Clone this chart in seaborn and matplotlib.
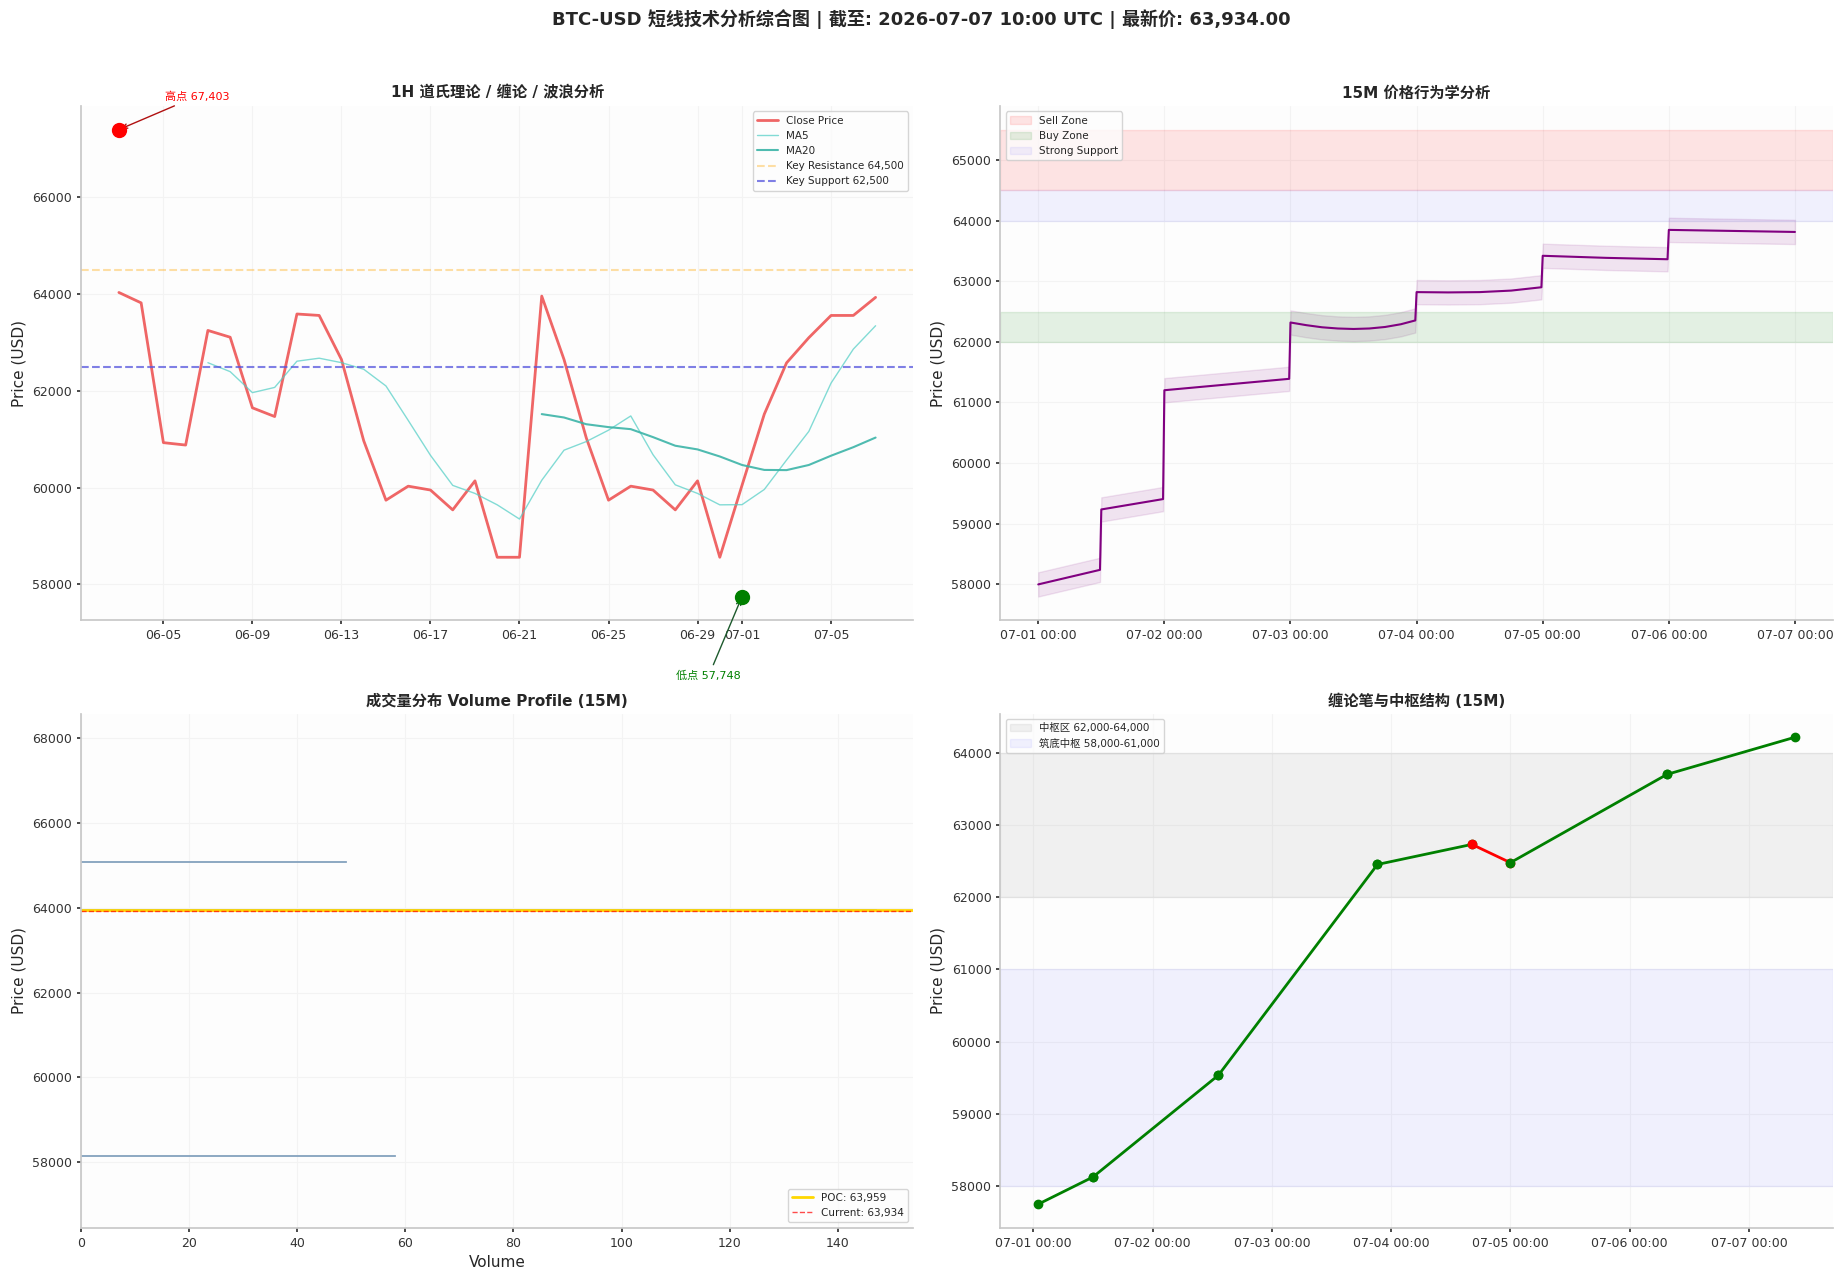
import pandas as pd
import matplotlib
matplotlib.use('Agg')
import matplotlib.pyplot as plt
import matplotlib.dates as mdates
import seaborn as sns
import numpy as np

# ---- 1H 日线收盘 (06-03 .. 07-07) ----
dates_1h = pd.date_range('2026-06-03', '2026-07-07', freq='D')
close_1h = [64035, 63820, 60930, 60880, 63250, 63110, 61650, 61470, 63590, 63560,
            62650, 60970, 59740, 60030, 59950, 59540, 60140, 58560, 58560, 63960,
            62650, 61030, 59740, 60030, 59950, 59540, 60140, 58560, 60050, 61520,
            62580, 63100, 63560, 63560, 63934]
# MA5 从 06-07 开始, MA20 从 06-22 开始
ma5 = [62583, 62398, 61964, 62072, 62614, 62676, 62584, 62448, 62102, 61390,
       60668, 60046, 59880, 59644, 59350, 60152, 60774, 60952, 61188, 61482,
       60680, 60058, 59880, 59644, 59648, 59962, 60570, 61162, 62162, 62864, 63347]
ma20 = [61520, 61450, 61311, 61251, 61209, 61044, 60866, 60790, 60644, 60468,
        60366, 60362, 60468, 60660, 60836, 61035]
high_date, high_price = pd.Timestamp('2026-06-03'), 67403
low_date, low_price = pd.Timestamp('2026-07-01'), 57748
resistance, support = 64500, 62500

# ---- 15M 价格 (小时偏移, 自 07-01 00:00) ----
hours_15m = [0, 11.75, 12, 23.75, 24, 47.75, 48, 51, 54, 57, 60, 63, 66, 69, 71.75,
             72, 78, 84, 90, 95.75, 96, 108, 119.75, 120, 144]
price_15m = [58000, 58240, 59236, 59407, 61202, 61390, 62319, 62275, 62240, 62220,
             62212, 62220, 62245, 62290, 62353, 62820, 62815, 62820, 62845, 62900,
             63419, 63385, 63362, 63846, 63812]
band_15m = 200

# ---- Volume profile ----
vp_prices = [65100, 63959, 58150]
vp_volumes = [49, 147, 58]
poc_price, current_price = 63959, 63934

# ---- 缠论笔 ----
bi_times = ['2026-07-01 01:00', '2026-07-01 12:00', '2026-07-02 13:15', '2026-07-03 21:15',
            '2026-07-04 16:15', '2026-07-05 00:00', '2026-07-06 07:30', '2026-07-07 09:15']
bi_prices = [57748, 58124, 59535, 62455, 62733, 62480, 63703, 64218]

sns.set_theme(style='whitegrid')
plt.rcParams['font.family'] = ['DejaVu Sans', 'Noto Sans CJK SC']
plt.rcParams['axes.unicode_minus'] = False
plt.rcParams.update({
    'axes.facecolor': '#fdfdfd',
    'axes.edgecolor': '#c8c8c8',
    'grid.color': '#f3f3f3',
    'grid.linewidth': 0.8,
    'xtick.bottom': True,
    'ytick.left': True,
    'xtick.major.size': 3,
    'ytick.major.size': 3,
    'xtick.color': '#333333',
    'ytick.color': '#333333',
    'xtick.labelsize': 9,
    'ytick.labelsize': 9,
})

fig, axes = plt.subplots(2, 2, figsize=(18.42, 12.8), dpi=100)
plt.subplots_adjust(left=0.044, right=0.995, top=0.917, bottom=0.041, wspace=0.1045, hspace=0.183)

# 1. 1H 道氏理论 / 缠论 / 波浪分析
ax = axes[0, 0]
df1 = pd.DataFrame({'date': dates_1h, 'close': close_1h})
sns.lineplot(data=df1, x='date', y='close', ax=ax, color='#ee5555', linewidth=2, alpha=0.9, label='Close Price')
sns.lineplot(x=dates_1h[4:], y=ma5, ax=ax, color='#4ECDC4', linewidth=1, alpha=0.7, label='MA5')
sns.lineplot(x=dates_1h[19:], y=ma20, ax=ax, color='#3cb4a8', linewidth=1.5, alpha=0.9, label='MA20')
ax.axhline(resistance, color='orange', linestyle='--', alpha=0.35, linewidth=1.5, label='Key Resistance 64,500')
ax.axhline(support, color='#5555dd', linestyle='--', alpha=0.75, linewidth=1.5, label='Key Support 62,500')
ax.scatter([high_date], [high_price], color='red', s=100, zorder=5)
ax.annotate(f'高点 {high_price:,}', xy=(high_date, high_price), xytext=(33, 24), textcoords='offset points',
            fontsize=8, color='red', ha='left', va='center',
            arrowprops=dict(arrowstyle='->', color='#b01010', lw=1))
ax.scatter([low_date], [low_price], color='green', s=100, zorder=5)
ax.annotate(f'低点 {low_price:,}', xy=(low_date, low_price), xytext=(-24, -57), textcoords='offset points',
            fontsize=8, color='green', ha='center', va='center',
            arrowprops=dict(arrowstyle='->', color='#1d5a2d', lw=1))
ax.xaxis.set_major_locator(mdates.DayLocator(bymonthday=[1, 5, 9, 13, 17, 21, 25, 29]))
ax.xaxis.set_major_formatter(mdates.DateFormatter('%m-%d'))
ax.set_title('1H 道氏理论 / 缠论 / 波浪分析', fontsize=11, fontweight='bold')
ax.set_xlabel('')
ax.set_ylabel('Price (USD)', fontsize=11)
ax.legend(loc='upper right', fontsize=7.5)

# 2. 15M 价格行为学分析
ax = axes[0, 1]
t15 = pd.Timestamp('2026-07-01') + pd.to_timedelta(hours_15m, unit='h')
p15 = np.array(price_15m)
sns.lineplot(x=t15, y=p15, ax=ax, color='purple', linewidth=1.5)
ax.fill_between(t15, p15 - band_15m, p15 + band_15m, color='purple', alpha=0.1)
ax.axhspan(64500, 65500, color='red', alpha=0.1, label='Sell Zone')
ax.axhspan(62000, 62500, color='green', alpha=0.1, label='Buy Zone')
ax.axhspan(64000, 64500, color='blue', alpha=0.05, label='Strong Support')
ax.xaxis.set_major_locator(mdates.DayLocator())
ax.xaxis.set_major_formatter(mdates.DateFormatter('%m-%d %H:%M'))
ax.set_title('15M 价格行为学分析', fontsize=11, fontweight='bold')
ax.set_xlabel('')
ax.set_ylabel('Price (USD)', fontsize=11)
ax.legend(loc='upper left', fontsize=7.5)

# 3. 成交量分布 Volume Profile (15M)
ax = axes[1, 0]
ax.barh(vp_prices, vp_volumes, height=25, color='#86a3bf', edgecolor='#86a3bf', linewidth=0.6)
ax.axhline(poc_price, color='gold', linewidth=2, label=f'POC: {poc_price:,}')
ax.axhline(current_price, color='red', linestyle='--', linewidth=1, alpha=0.7, label=f'Current: {current_price:,}')
ax.set_xlim(0, 154)
ax.set_ylim(56450, 68580)
ax.set_title('成交量分布 Volume Profile (15M)', fontsize=11, fontweight='bold')
ax.set_xlabel('Volume', fontsize=11)
ax.set_ylabel('Price (USD)', fontsize=11)
ax.legend(loc='lower right', fontsize=7.5)

# 4. 缠论笔与中枢结构 (15M)
ax = axes[1, 1]
ax.axhspan(62000, 64000, color='gray', alpha=0.1, label='中枢区 62,000-64,000')
ax.axhspan(58000, 61000, color='blue', alpha=0.05, label='筑底中枢 58,000-61,000')
bt = pd.to_datetime(bi_times)
for i in range(len(bi_prices) - 1):
    c = 'green' if bi_prices[i + 1] > bi_prices[i] else 'red'
    ax.plot(bt[i:i + 2], bi_prices[i:i + 2], color=c, linewidth=2, marker='o', markersize=6)
ax.xaxis.set_major_locator(mdates.DayLocator())
ax.xaxis.set_major_formatter(mdates.DateFormatter('%m-%d %H:%M'))
ax.set_title('缠论笔与中枢结构 (15M)', fontsize=11, fontweight='bold')
ax.set_ylabel('Price (USD)', fontsize=11)
ax.legend(loc='upper left', fontsize=7.5)

for a in axes.flat:
    sns.despine(ax=a)

fig.suptitle('BTC-USD 短线技术分析综合图 | 截至: 2026-07-07 10:00 UTC | 最新价: 63,934.00',
             fontsize=13, fontweight='bold', y=0.993)
fig.savefig('out.png', dpi=100)
plt.close()
